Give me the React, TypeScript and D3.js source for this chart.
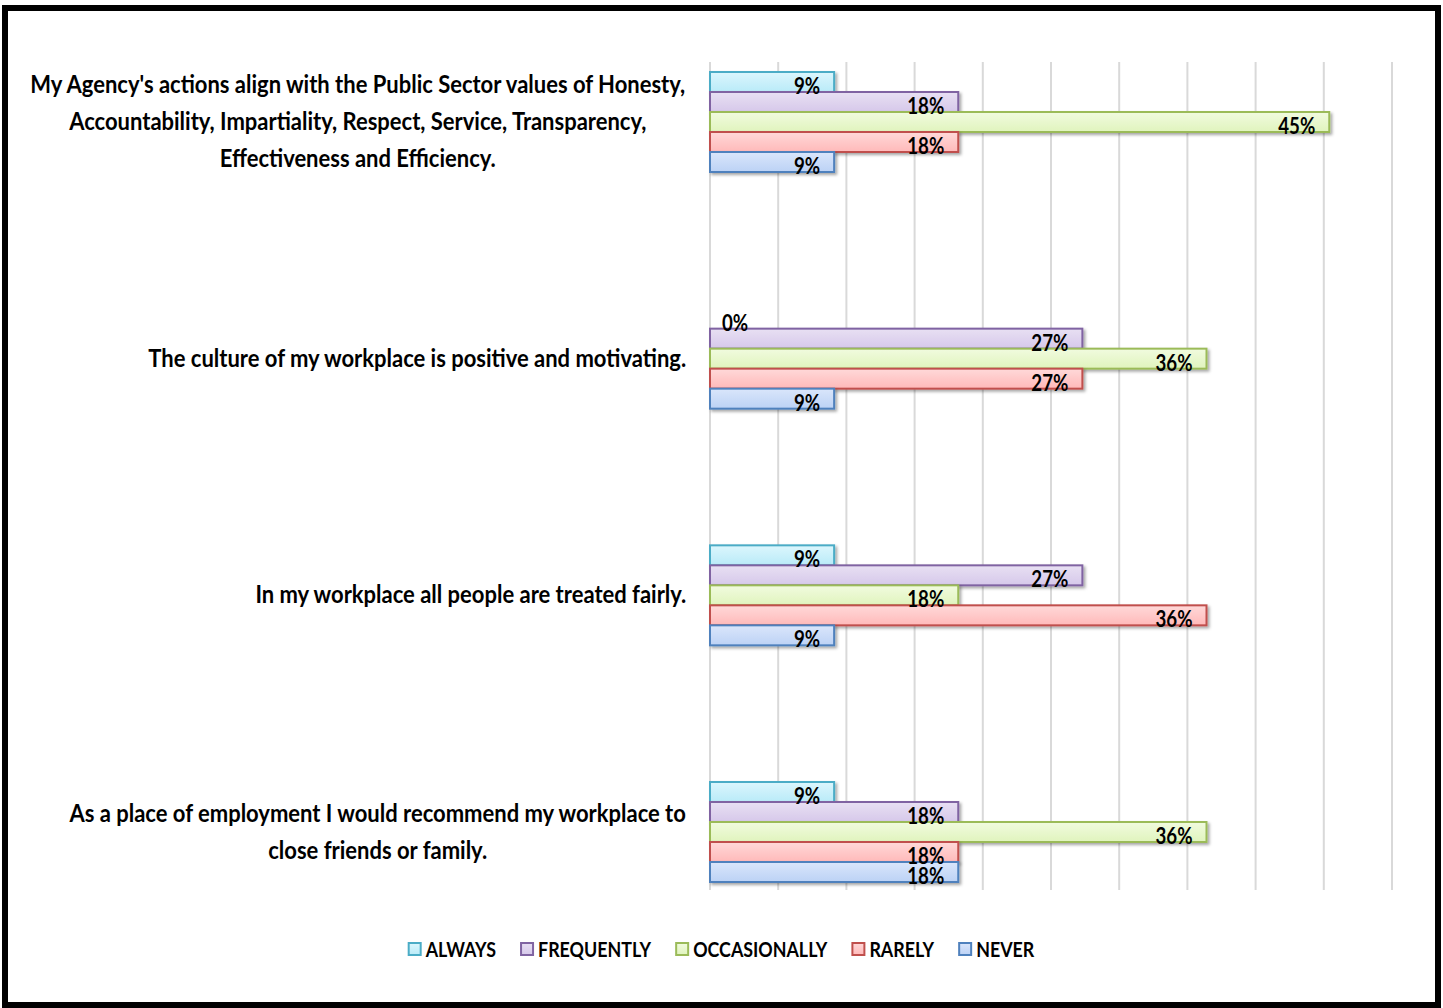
import React from "react";
import * as d3 from "d3";

const categories = [
  "My Agency's actions align with the Public Sector values of Honesty,|Accountability, Impartiality, Respect, Service, Transparency,|Effectiveness and Efficiency.",
  "The culture of my workplace is positive and motivating.",
  "In my workplace all people are treated fairly.",
  "As a place of employment I would recommend my workplace to|close friends or family.",
];
const seriesNames = ["ALWAYS", "FREQUENTLY", "OCCASIONALLY", "RARELY", "NEVER"];
const always = [9.1, 0, 9.1, 9.1];
const frequently = [18.2, 27.3, 27.3, 18.2];
const occasionally = [45.4, 36.4, 18.2, 36.4];
const rarely = [18.2, 27.3, 36.4, 18.2];
const never = [9.1, 9.1, 9.1, 18.2];
const seriesValues = [always, frequently, occasionally, rarely, never];
const xTicks = [0, 5, 10, 15, 20, 25, 30, 35, 40, 45, 50];

const strokeColors = ["#4bacc6", "#8064a2", "#9bbb59", "#c0504d", "#4f81bd"];
const fillTop = ["#dcf6fd", "#e8e0f3", "#f1fbdf", "#ffd9d9", "#dae6fb"];
const fillBottom = ["#b9ebf8", "#d6c8ea", "#e0f4bd", "#ffb9b9", "#bcd2f5"];

const FONT = "Lato, 'Open Sans', sans-serif";
const SX_SMALL = 0.85;
const SX_CAT = 0.88;

function measure(text: string, size: number, sx: number): number {
  const c = document.createElement("canvas");
  const ctx = c.getContext("2d")!;
  ctx.font = `bold ${size}px ${FONT}`;
  return ctx.measureText(text).width * sx;
}

function T(props: { x: number; y: number; anchor?: string; size: number; sx: number; children: React.ReactNode }) {
  return (
    <text
      transform={`translate(${props.x},${props.y}) scale(${props.sx},1)`}
      textAnchor={props.anchor || "start"}
      fontFamily={FONT}
      fontWeight="bold"
      fontSize={props.size}
      fill="#000"
    >
      {props.children}
    </text>
  );
}

export default function App() {
  const W = 1443;
  const H = 1008;
  const x = d3.scaleLinear().domain([0, 50]).range([710, 1392]);
  const yCenter = d3.scalePoint<string>().domain(categories).range([122, 832]);
  const ySeries = d3.scaleBand<string>().domain(seriesNames).range([-50, 50]).paddingInner(0);
  const gridTop = 62;
  const gridBottom = 890;
  const catFont = 25;
  const lblFont = 22;
  const lineH = 37;
  const labelRight = 687;
  const fmt = (v: number) => `${Math.round(v)}%`;

  const legFont = 21;
  const markerSize = 12;
  const markerGap = 5;
  const itemGap = 25;
  const legWidths = seriesNames.map((s) => markerSize + markerGap + measure(s, legFont, SX_SMALL));
  const totalLeg = d3.sum(legWidths) + itemGap * (seriesNames.length - 1);
  let lx = W / 2 - totalLeg / 2;
  const legX = legWidths.map((w) => {
    const cur = lx;
    lx += w + itemGap;
    return cur;
  });
  const legY = 949;

  return (
    <svg width={W} height={H} style={{ position: "absolute", left: 0, top: 0, background: "#fff" }}>
      <defs>
        {seriesNames.map((s, i) => (
          <linearGradient key={s} id={`g${i}`} x1="0" y1="0" x2="0" y2="1">
            <stop offset="0%" stopColor={fillTop[i]} />
            <stop offset="100%" stopColor={fillBottom[i]} />
          </linearGradient>
        ))}
        <filter id="shadow" x="-5%" y="-30%" width="110%" height="180%">
          <feDropShadow dx="2" dy="2" stdDeviation="1.5" floodColor="#000" floodOpacity="0.35" />
        </filter>
      </defs>
      <rect x={0} y={0} width={W} height={H} fill="#fff" />
      <rect x={5} y={8} width={1433} height={997} fill="#fff" stroke="#000" strokeWidth={6} />

      {xTicks.map((t) => (
        <line key={t} x1={x(t)} x2={x(t)} y1={gridTop} y2={gridBottom} stroke="#d9d9d9" strokeWidth={2} />
      ))}

      {categories.map((c, ci) => (
        <g key={c}>
          {seriesNames.map((s, si) => {
            const v = seriesValues[si][ci];
            const y0 = yCenter(c)! + ySeries(s)!;
            const bh = ySeries.bandwidth();
            return v > 0 ? (
              <rect
                key={s}
                x={x(0)}
                y={y0}
                width={x(v) - x(0)}
                height={bh}
                fill={`url(#g${si})`}
                stroke={strokeColors[si]}
                strokeWidth={2}
                filter="url(#shadow)"
              />
            ) : null;
          })}
          {seriesNames.map((s, si) => {
            const v = seriesValues[si][ci];
            const cy = yCenter(c)! + ySeries(s)! + ySeries.bandwidth() / 2;
            return (
              <T
                key={s + "l"}
                x={v > 0 ? x(v) - 14 : x(0) + 12}
                y={cy + 12}
                anchor={v > 0 ? "end" : "start"}
                size={lblFont}
                sx={SX_SMALL}
              >
                {fmt(v)}
              </T>
            );
          })}
        </g>
      ))}

      {categories.map((c) => {
        const lines = c.split("|");
        const maxW = d3.max(lines, (l) => measure(l, catFont, SX_CAT))!;
        const cx = labelRight - maxW / 2;
        const cy = yCenter(c)!;
        const start = cy - ((lines.length - 1) * lineH) / 2;
        return (
          <g key={c + "cat"}>
            {lines.map((l, li) => (
              <T key={li} x={cx} y={start + li * lineH + 8} anchor="middle" size={catFont} sx={SX_CAT}>
                {l}
              </T>
            ))}
          </g>
        );
      })}

      {seriesNames.map((s, i) => (
        <g key={s + "leg"}>
          <rect
            x={legX[i]}
            y={legY - markerSize / 2}
            width={markerSize}
            height={markerSize}
            fill={`url(#g${i})`}
            stroke={strokeColors[i]}
            strokeWidth={2}
          />
          <T x={legX[i] + markerSize + markerGap} y={legY + 8} size={legFont} sx={SX_SMALL}>
            {s}
          </T>
        </g>
      ))}
    </svg>
  );
}
